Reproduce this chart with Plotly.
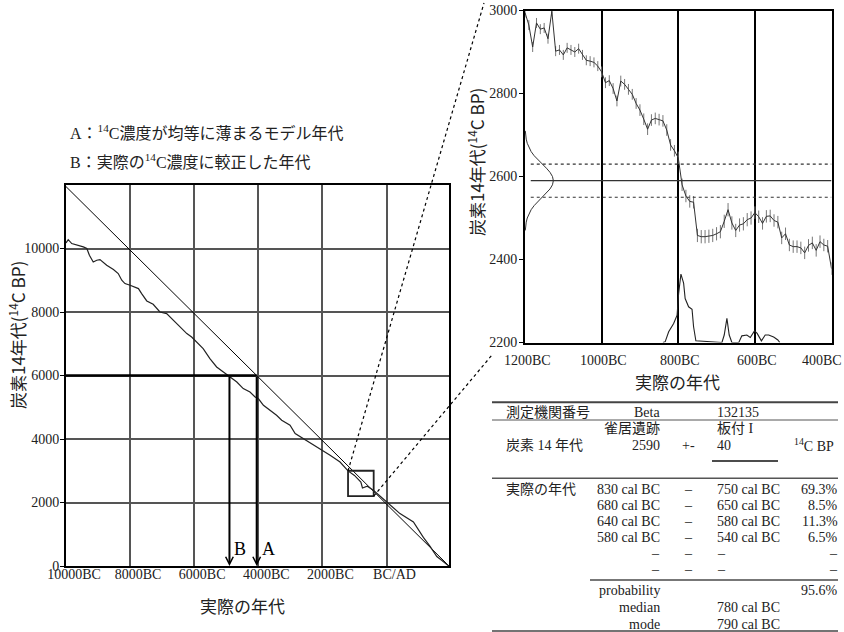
import plotly.graph_objects as go

W, H = 844, 632

# ---------------- left chart data ----------------
cal_years = [-10000, -9930, -9820, -9620, -9460, -9350, -9270, -9150, -9040, -8940,
             -8730, -8520, -8370, -8260, -8160, -8000, -7740, -7640, -7480, -7280,
             -7170, -7070, -6860, -6700, -6550, -6390, -6230, -6080, -5870, -5720,
             -5510, -5300, -5090, -4900, -4670, -4470, -4260, -4100, -4000, -3840,
             -3640, -3430, -3270, -3010, -2850, -2590, -2330, -2020, -1760, -1450,
             -1200, -1000, -900, -800, -750, -600, -400, -200, 0, 420,
             840, 1150, 1360, 1570, 1720, 1930]
cal_bp = [10175, 10280, 10155, 10100, 10050, 9998, 9787, 9576, 9630, 9652,
          9472, 9337, 9211, 9000, 8896, 8842, 8738, 8581, 8348, 8244,
          8108, 8001, 7951, 7793, 7636, 7478, 7321, 7214, 7006, 6848,
          6533, 6269, 6111, 5976, 5796, 5588, 5481, 5323, 5273, 5062,
          4905, 4747, 4590, 4432, 4171, 4013, 3856, 3645, 3487, 3276,
          2995, 2852, 2760, 2645, 2458, 2513, 2378, 2200, 2016, 1651,
          1386, 900, 620, 300, 180, 10]
model_years = [-10000, 1950]
model_bp = [11950, 0]
x_range_left = [-10000, 1950]
y_range_left = [0, 12000]
x_ticks_left = [-10000, -8000, -6000, -4000, -2000, 0]
x_labels_left = ['10000BC', '8000BC', '6000BC', '4000BC', '2000BC', 'BC/AD']
y_ticks_left = [0, 2000, 4000, 6000, 8000, 10000]
measured_bp = 6000
age_A = -4050
age_B = -4900
zoom_x = [-1200, -400]
zoom_y = [2200, 3000]

# ---------------- right chart data ----------------
curve_start, curve_step = -1200, 10
curve_bp = [2995, 2965, 2912, 2970, 2955, 2958, 2932, 2998, 2902, 2905,
            2893, 2910, 2905, 2900, 2908, 2893, 2880, 2878, 2875, 2866,
            2852, 2826, 2831, 2812, 2782, 2830, 2822, 2810, 2798, 2776,
            2760, 2738, 2714, 2736, 2740, 2737, 2734, 2712, 2676, 2662,
            2645, 2580, 2553, 2540, 2538, 2458, 2455, 2455, 2456, 2458,
            2462, 2467, 2492, 2520, 2488, 2470, 2483, 2486, 2496, 2500,
            2513, 2503, 2487, 2504, 2505, 2494, 2490, 2452, 2462, 2435,
            2431, 2431, 2428, 2416, 2434, 2440, 2422, 2443, 2435, 2432,
            2378]
curve_err = [12, 12, 12, 12, 12, 12, 12, 12, 12, 12,
             12, 12, 12, 12, 12, 12, 12, 12, 12, 12,
             13, 13, 13, 13, 13, 13, 13, 13, 13, 13,
             14, 14, 14, 14, 14, 14, 14, 14, 14, 14,
             15, 15, 15, 15, 15, 16, 16, 16, 16, 16,
             16, 16, 16, 16, 16, 16, 16, 16, 16, 16,
             15, 15, 15, 15, 15, 15, 15, 15, 15, 15,
             15, 15, 15, 15, 15, 15, 15, 15, 15, 15,
             15]
curve_years = [curve_start + curve_step * i for i in range(len(curve_bp))]
sample_bp = 2590
sample_err = 40
gauss_offset = [-120, -110, -100, -90, -80, -70, -60, -50, -40, -30, -20, -10, 0,
                10, 20, 30, 40, 50, 60, 70, 80, 90, 100, 110, 120]
gauss_width = [0.8, 1.7, 3.2, 5.9, 10.0, 16.0, 24.0, 33.9, 44.9, 55.9, 65.3, 71.7, 74.0,
               71.7, 65.3, 55.9, 44.9, 33.9, 24.0, 16.0, 10.0, 5.9, 3.2, 1.7, 0.8]
prob_years = [-840, -834, -825, -812, -803, -799, -793, -786, -782, -773, -764, -760, -754,
              -686, -680, -673, -667, -660, -642, -634, -621, -612, -601, -594, -583,
              -573, -564, -551, -540, -535]
prob_height = [0, 2, 26, 46, 66, 118, 165, 143, 106, 86, 80, 38, 4,
               0, 18, 58, 18, 0, 0, 16, 18, 12, 28, 22, 4,
               18, 18, 13, 6, 0]
x_range_right = [-1200, -400]
y_range_right = [2200, 3000]
x_ticks_right = [-1200, -1000, -800, -600, -400]
x_labels_right = ['1200BC', '1000BC', '800BC', '600BC', '400BC']
y_ticks_right = [2200, 2400, 2600, 2800, 3000]

# ---------------- table data ----------------
lab_label, lab_name, lab_code = '測定機関番号', 'Beta', '132135'
site_name, sample_name = '雀居遺跡', '板付 I'
c14_label, c14_unit = '炭素 14 年代', '<sup>14</sup>C BP'
cal_label = '実際の年代'
range_from = ['830 cal BC', '680 cal BC', '640 cal BC', '580 cal BC', '–', '–']
range_to = ['750 cal BC', '650 cal BC', '580 cal BC', '540 cal BC', '–', '–']
range_prob = ['69.3%', '8.5%', '11.3%', '6.5%', '–', '–']
total_prob = '95.6%'
median_age = '780 cal BC'
mode_age = '790 cal BC'

# ---------------- geometry (pixels) ----------------
LX, LY = (66, 449), (566, 185)
RX, RY = (525, 831.5), (342.5, 10.5)


def px(x):
    return x / W


def py(y):
    return 1 - y / H


def lpx(v):
    return LX[0] + (v - x_range_left[0]) / (x_range_left[1] - x_range_left[0]) * (LX[1] - LX[0])


def lpy(v):
    return LY[0] + (v - y_range_left[0]) / (y_range_left[1] - y_range_left[0]) * (LY[1] - LY[0])


SERIF = 'Liberation Serif, Noto Sans CJK JP'
SANS = 'Noto Sans CJK JP'

fig = go.Figure()

# left chart
fig.add_trace(go.Scatter(x=model_years, y=model_bp, mode='lines',
                         line=dict(color='black', width=1), xaxis='x', yaxis='y'))
fig.add_trace(go.Scatter(x=cal_years, y=cal_bp, mode='lines',
                         line=dict(color='#222', width=1.2), xaxis='x', yaxis='y'))
fig.add_trace(go.Scatter(x=[x_range_left[0], age_A], y=[measured_bp, measured_bp], mode='lines',
                         line=dict(color='black', width=2.5), xaxis='x', yaxis='y'))

# right chart
fig.add_trace(go.Scatter(x=curve_years, y=curve_bp, mode='lines',
                         line=dict(color='#333', width=1),
                         error_y=dict(type='data', array=curve_err, color='#777', thickness=1, width=0),
                         xaxis='x2', yaxis='y2'))
fig.add_trace(go.Scatter(x=[x_range_right[0] + w for w in gauss_width],
                         y=[sample_bp + o for o in gauss_offset], mode='lines',
                         line=dict(color='#333', width=1), xaxis='x2', yaxis='y2'))
line_start = x_range_right[0] + 15
for val, dash, wd in [(sample_bp, 'solid', 1.4), (sample_bp + sample_err, 'dot', 1.2),
                      (sample_bp - sample_err, 'dot', 1.2)]:
    fig.add_trace(go.Scatter(x=[line_start, x_range_right[1]], y=[val, val], mode='lines',
                             line=dict(color='#333', width=wd, dash=dash), xaxis='x2', yaxis='y2'))
fig.add_trace(go.Scatter(x=prob_years, y=[y_range_right[0] + h for h in prob_height], mode='lines',
                         line=dict(color='#222', width=1.1), xaxis='x2', yaxis='y2'))

annotations = []
shapes = []

# arrows A and B
for age, lab in [(age_A, 'A'), (age_B, 'B')]:
    annotations.append(dict(x=age, y=0, ax=age, ay=measured_bp, xref='x', yref='y',
                            axref='x', ayref='y', text='', showarrow=True, arrowhead=5,
                            arrowsize=0.75, arrowwidth=2, arrowcolor='black'))
    annotations.append(dict(x=age, y=550, xref='x', yref='y', text=lab, showarrow=False,
                            xanchor='left', yanchor='middle', xshift=3,
                            font=dict(family=SERIF, size=18, color='black')))

# zoom box and connectors
shapes.append(dict(type='rect', xref='x', yref='y', x0=zoom_x[0], x1=zoom_x[1], y0=zoom_y[0], y1=zoom_y[1],
                   line=dict(color='#222', width=1.8)))
shapes.append(dict(type='line', xref='paper', yref='paper',
                   x0=px(lpx(zoom_x[0])), y0=py(lpy(zoom_y[1])), x1=px(484), y1=py(3),
                   line=dict(color='black', width=1.2, dash='dot')))
shapes.append(dict(type='line', xref='paper', yref='paper',
                   x0=px(lpx(zoom_x[1])), y0=py(lpy(zoom_y[0])), x1=px(492), y1=py(355),
                   line=dict(color='black', width=1.2, dash='dot')))

# legend text
annotations.append(dict(x=px(68), y=py(131.5), xref='paper', yref='paper', xanchor='left', yanchor='middle',
                        text='A：<sup>14</sup>C濃度が均等に薄まるモデル年代', showarrow=False,
                        font=dict(family=SERIF, size=16, color='#222')))
annotations.append(dict(x=px(68), y=py(161.5), xref='paper', yref='paper', xanchor='left', yanchor='middle',
                        text='B：実際の<sup>14</sup>C濃度に較正した年代', showarrow=False,
                        font=dict(family=SERIF, size=16, color='#222')))

# axis titles
ytitle = '炭素14年代(<sup>14</sup>C BP)'
TITLE_FONT = dict(family=SANS, size=17, color='#222')
for x, y, t, ang in [(17, 335, ytitle, -90), (242, 605, '実際の年代', 0),
                     (476, 162, ytitle, -90), (677, 381, '実際の年代', 0)]:
    annotations.append(dict(x=px(x), y=py(y), xref='paper', yref='paper', text=t, textangle=ang,
                            xanchor='center', yanchor='middle', showarrow=False, font=TITLE_FONT))

# right x tick labels
for i, (v, t) in enumerate(zip(x_ticks_right, x_labels_right)):
    last = i == len(x_ticks_right) - 1
    annotations.append(dict(x=v, y=py(360), xref='x2', yref='paper', text=t, showarrow=False,
                            xanchor='right' if last else 'center', xshift=12 if last else 2,
                            yanchor='middle', font=dict(family=SERIF, size=14, color='#222')))

# table
TF = dict(family=SERIF, size=14, color='#222')


def tcell(x, y, text, anchor):
    annotations.append(dict(x=px(x), y=py(y), xref='paper', yref='paper', text=text, showarrow=False,
                            xanchor=anchor, yanchor='middle', font=TF))


C0, C1, C2, C3, C4, CU = 504, 661.5, 688, 715, 839.5, 791.5
tcell(C0, 412.7, lab_label, 'left')
tcell(C1, 412.7, lab_name, 'right')
tcell(C3, 412.7, lab_code, 'left')
tcell(C1, 428.5, site_name, 'right')
tcell(C3, 428.5, sample_name, 'left')
tcell(C0, 445, c14_label, 'left')
tcell(C1, 445, str(sample_bp), 'right')
tcell(C2, 445, '+-', 'center')
tcell(C3, 445, str(sample_err), 'left')
tcell(CU, 445, c14_unit, 'left')
tcell(C0, 489.3, cal_label, 'left')
row_y = [489.3, 505.5, 521.5, 537.5, 553.5, 569.5]
for y, a, b, p in zip(row_y, range_from, range_to, range_prob):
    tcell(C1, y, a, 'right')
    tcell(C2, y, '–', 'center')
    tcell(C3, y, b, 'left')
    tcell(C4, y, p, 'right')
tcell(C1, 590, 'probability', 'right')
tcell(C4, 590, total_prob, 'right')
tcell(C1, 607, 'median', 'right')
tcell(C3, 607, median_age, 'left')
tcell(C1, 624, 'mode', 'right')
tcell(C3, 624, mode_age, 'left')

for x0, x1, y, w, c in [(492, 838, 402.3, 2, '#444'), (492, 838, 420, 1, '#555'),
                        (712, 778, 461, 1.5, '#111'), (492, 838, 478.3, 1.5, '#555'),
                        (590, 838, 580, 2, '#777'), (492, 838, 631, 1.5, '#444')]:
    shapes.append(dict(type='line', xref='paper', yref='paper', x0=px(x0), x1=px(x1), y0=py(y), y1=py(y),
                       line=dict(color=c, width=w)))

axis_common = dict(showline=True, mirror=True, linecolor='black', zeroline=False, automargin=False,
                   tickfont=dict(family=SERIF, size=14, color='#222'))

fig.update_layout(
    width=W, height=H, margin=dict(l=0, r=0, t=0, b=0, pad=0),
    paper_bgcolor='white', plot_bgcolor='white', showlegend=False,
    xaxis=dict(domain=[px(LX[0]), px(LX[1])], range=x_range_left, tickvals=x_ticks_left,
               ticktext=x_labels_left, showgrid=True, gridcolor='#555', gridwidth=1.5,
               linewidth=2, ticks='', ticklabelshift=8, ticklabelstandoff=-6, anchor='y', **axis_common),
    yaxis=dict(domain=[py(LY[0]), py(LY[1])], range=y_range_left, tickvals=y_ticks_left,
               ticktext=[str(v) for v in y_ticks_left],
               showgrid=True, gridcolor='#555', gridwidth=1.5, linewidth=2, ticklabelstandoff=-2,
               ticks='outside', ticklen=4, tickcolor='black', anchor='x', **axis_common),
    xaxis2=dict(domain=[px(RX[0]), px(RX[1])], range=x_range_right, tickvals=x_ticks_right[1:-1],
                showticklabels=False, showgrid=True, gridcolor='black', gridwidth=2,
                linewidth=2, ticks='', anchor='y2', **axis_common),
    yaxis2=dict(domain=[py(RY[0]), py(RY[1])], range=y_range_right, tickvals=y_ticks_right,
                ticktext=[str(v) for v in y_ticks_right], ticklabelstandoff=-1,
                showgrid=False, linewidth=2, ticks='outside', ticklen=4, tickcolor='black',
                anchor='x2', **axis_common),
    annotations=annotations, shapes=shapes,
)

fig.write_html('out.html', config={'displayModeBar': False},
               post_script="document.body.style.margin='0';")
